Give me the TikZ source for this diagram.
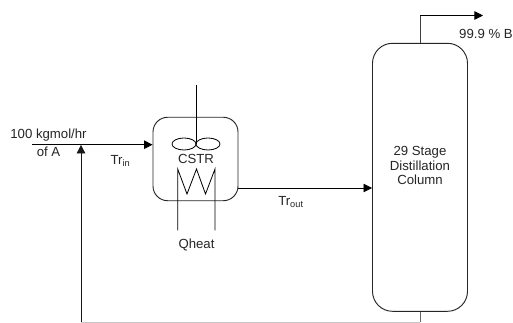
\documentclass[tikz,border=0pt]{standalone}
\usepackage{fontspec}
\setmainfont{Liberation Sans}
\usetikzlibrary{arrows.meta}
\tikzset{
  vessel/.style={draw=black!85,line width=0.7pt,rectangle,inner sep=0pt},
  pipe/.style={draw=black,line width=0.6pt},
  flow/.style={pipe,-{Triangle[length=6.4pt,width=6.4pt]}},
  lbl/.style={font=\fontsize{9.9pt}{11pt}\selectfont,inner sep=0pt,text=black!85,align=center},
  blade/.style={draw=black,line width=0.6pt},
}
\begin{document}
\begin{tikzpicture}[x=0.75pt,y=-0.75pt]
\useasboundingbox (0,0) rectangle (513,323);
\fill[white] (0,0) rectangle (513,323);
% vessels
\node[vessel,rounded corners=11pt,minimum width=63.75pt,minimum height=62.6pt] (cstr) at (195.5,159) {};
\node[vessel,rounded corners=15pt,minimum width=71.25pt,minimum height=201pt] (col) at (420,177.3) {};
% coordinates
\coordinate (feed) at (32,144.7);
\coordinate (feedEnd) at (cstr.west |- feed);
\coordinate (ret) at (81,322.3);
\coordinate (retTip) at (81,144.9);
\coordinate (colBot) at (420,322.3);
\coordinate (topCorner) at (420,15.5);
\coordinate (prod) at (483,15.5);
\coordinate (outA) at (238,188);
\coordinate (outB) at (col.west |- outA);
\coordinate (shaftTop) at (196,85);
\coordinate (hub) at (196,144);
\coordinate (coilL) at (177.7,169);
\coordinate (coilLb) at (177.7,230.5);
\coordinate (coilR) at (215,169);
\coordinate (coilRb) at (215,230.5);
% streams
\draw[flow] (feed) -- (feedEnd);
\draw[flow,draw=black!90] (ret) -- (retTip);
\draw[draw=black!22,line width=0.75pt] (ret) -- (colBot);
\draw[draw=black!60,line width=0.7pt] (colBot) -- (col.south);
\draw[pipe,black!75] (col.north) -- (topCorner);
\draw[flow] (topCorner) -- (prod);
\draw[flow] (outA) -- (outB);
% agitator
\draw[pipe] (shaftTop) -- (hub);
\draw[blade] (184,144) ellipse [x radius=9pt,y radius=4.5pt];
\draw[blade] (208,144) ellipse [x radius=9pt,y radius=4.5pt];
% coil
\draw[pipe,line join=miter] (coilLb) -- (coilL) -- (187,194) -- (196.5,169) -- (205.5,194) -- (coilR) -- (coilRb);
% labels
\node[lbl] (t1) at (48.5,135) {100 kgmol/hr};
\node[lbl] (t2) at (48.5,151.5) {of A};
\node[lbl] (t3) at (120.5,161) {Tr\textsubscript{in}};
\node[lbl] (t4) at (196,159) {CSTR};
\node[lbl] (t5) at (196.5,245) {Qheat};
\node[lbl] (t6) at (291,202.5) {Tr\textsubscript{out}};
\node[lbl] (t7) at (486,33.5) {99.9 \% B};
\node[lbl,align=center] (t8) at (420,165.5) {29 Stage\\Distillation\\Column};
\end{tikzpicture}
\end{document}
